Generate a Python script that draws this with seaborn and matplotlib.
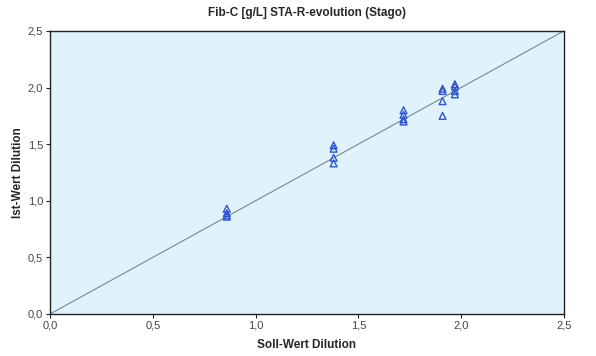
import pandas as pd
import matplotlib
matplotlib.use('Agg')
import matplotlib.pyplot as plt
import seaborn as sns
from matplotlib.ticker import FuncFormatter

# Soll-Wert (target) and Ist-Wert (measured) per dilution step
soll = [0.86, 0.86, 0.86, 0.86,
        1.38, 1.38, 1.38, 1.38,
        1.72, 1.72, 1.72, 1.72,
        1.91, 1.91, 1.91, 1.91,
        1.97, 1.97, 1.97, 1.97]
ist = [0.93, 0.89, 0.87, 0.86,
       1.49, 1.46, 1.38, 1.33,
       1.80, 1.76, 1.72, 1.70,
       1.99, 1.97, 1.88, 1.75,
       2.03, 2.01, 1.97, 1.94]
ticks = [0.0, 0.5, 1.0, 1.5, 2.0, 2.5]

df = pd.DataFrame({'Soll': soll, 'Ist': ist})

sns.set_style('white')
plt.rcParams['font.family'] = ['Liberation Sans', 'DejaVu Sans']

fig = plt.figure(figsize=(5.96, 3.56), dpi=100)
ax = fig.add_axes([0.084, 0.118, 0.862, 0.795])
ax.set_facecolor('#e0f2fc')

# identity line
ax.plot([0, 2.5], [0, 2.5], color='#7a8a8a', lw=0.8, zorder=1)

sns.scatterplot(data=df, x='Soll', y='Ist', ax=ax, marker='^', s=24,
                facecolors='none', edgecolor='#2f55d4', linewidth=1.0, zorder=3)

ax.set_xlim(0, 2.5)
ax.set_ylim(0, 2.5)
ax.set_xticks(ticks)
ax.set_yticks(ticks)
fmt = FuncFormatter(lambda v, p: f'{v:.1f}'.replace('.', ','))
ax.xaxis.set_major_formatter(fmt)
ax.yaxis.set_major_formatter(fmt)
ax.tick_params(axis='both', labelsize=8, labelcolor='#444444', color='#222222',
               length=3, pad=2, direction='out', bottom=True, left=True, width=0.8)
for s in ax.spines.values():
    s.set_color('#222222')
    s.set_linewidth(1.0)

ax.set_title('Fib-C [g/L] STA-R-evolution (Stago)', fontsize=8.5, fontweight='bold', pad=11)
ax.set_xlabel('Soll-Wert Dilution', fontsize=8.5, fontweight='bold', labelpad=6)
ax.set_ylabel('Ist-Wert Dilution', fontsize=8.5, fontweight='bold', labelpad=3)

fig.savefig('out.png', dpi=100)
